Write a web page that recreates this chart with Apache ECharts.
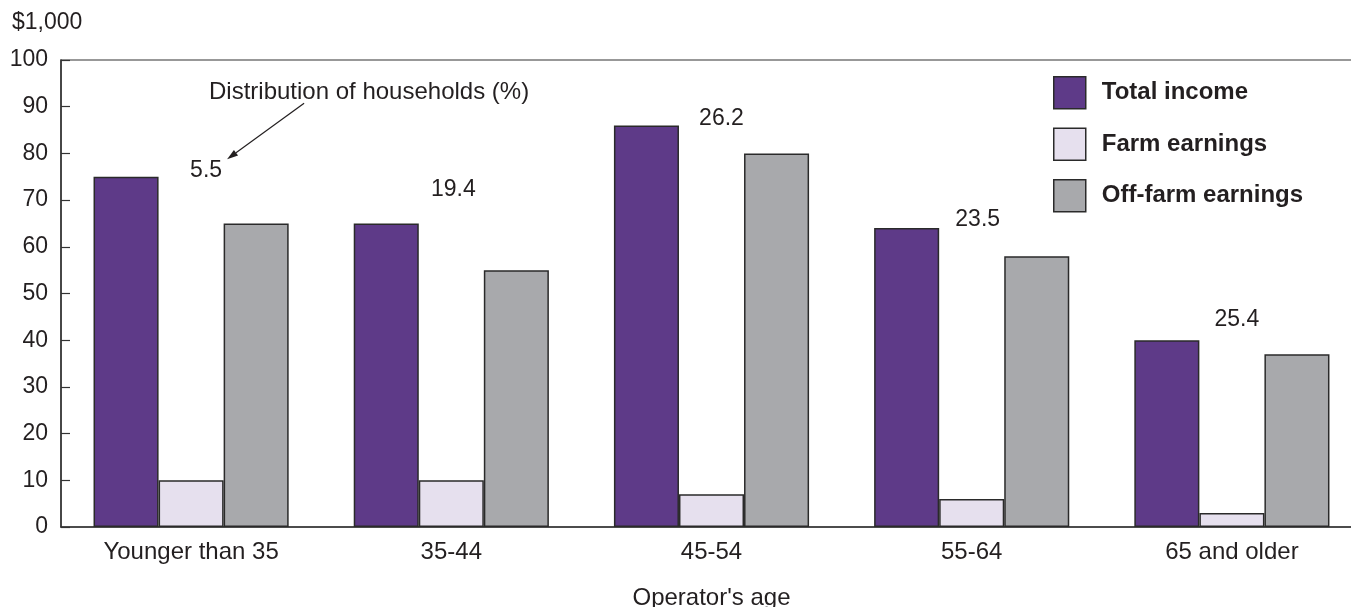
<!DOCTYPE html>
<html>
<head>
<meta charset="utf-8">
<script src="https://cdn.jsdelivr.net/npm/echarts@6/dist/echarts.min.js"></script>
<style>
html,body{margin:0;padding:0;background:#fff;}
#main{width:1351px;height:607px;}
</style>
</head>
<body>
<div id="main"></div>
<script>
// ---- data ----
const categories = ['Younger than 35', '35-44', '45-54', '55-64', '65 and older'];
const totalIncome = [75, 65, 86, 64, 40];
const farmEarnings = [10, 10, 7, 6, 3];
const offFarmEarnings = [65, 55, 80, 58, 37];
const householdShare = [5.5, 19.4, 26.2, 23.5, 25.4];
const yTicks = [0, 10, 20, 30, 40, 50, 60, 70, 80, 90, 100];

// ---- layout (label placement only) ----
const shareLabelY = [76.4, 72.3, 87.4, 65.8, 44.4];
const shareLabelDx = [15, 2, 10, 6, 5];

const FONT = 'Liberation Sans, Arial, Helvetica, sans-serif';
const TXT = '#231f20';

const chart = echarts.init(document.getElementById('main'), null, {renderer: 'canvas'});

const barBorder = {borderColor: '#2a2a2a', borderWidth: 1.5};

const option = {
  animation: false,
  backgroundColor: '#fff',
  grid: {left: 61, top: 60, width: 1301, bottom: 80, outerBoundsMode: 'none', containLabel: false,
    show: true, borderColor: '#333', borderWidth: 1.2, backgroundColor: 'transparent'},
  legend: {
    left: 1048, top: 71, orient: 'vertical', icon: 'rect',
    itemWidth: 32, itemHeight: 32, itemGap: 18,
    itemStyle: {borderColor: '#2a2a2a', borderWidth: 1.5},
    textStyle: {fontFamily: FONT, fontSize: 24, fontWeight: 'bold', color: TXT, padding: [0, 0, 0, 11]},
    data: ['Total income', 'Farm earnings', 'Off-farm earnings']
  },
  xAxis: {
    type: 'category', data: categories,
    name: "Operator's age", nameLocation: 'middle', nameGap: 59,
    nameTextStyle: {fontFamily: FONT, fontSize: 24, color: TXT},
    axisLine: {lineStyle: {color: '#333', width: 1.5}},
    axisTick: {inside: true, length: 9, alignWithLabel: true, lineStyle: {color: '#333', width: 1.2}},
    axisLabel: {fontFamily: FONT, fontSize: 24, color: TXT, margin: 13}
  },
  yAxis: {
    type: 'value', min: 0, max: 100, interval: 10,
    name: '$1,000', nameLocation: 'end', nameGap: 26,
    nameTextStyle: {fontFamily: FONT, fontSize: 23, color: TXT, align: 'left', padding: [0, 0, 0, -49]},
    axisLine: {show: true, lineStyle: {color: '#333', width: 1.5}},
    axisTick: {show: true, inside: true, length: 9, lineStyle: {color: '#333', width: 1.2}},
    axisLabel: {fontFamily: FONT, fontSize: 23, color: TXT, margin: 13,
      formatter: v => yTicks.includes(v) ? String(v) : ''},
    splitLine: {show: false}
  },
  series: [
    {name: 'Total income', type: 'bar', data: totalIncome, barGap: '0%', barCategoryGap: '25%',
      itemStyle: Object.assign({color: '#5e3a88'}, barBorder)},
    {name: 'Farm earnings', type: 'bar', data: farmEarnings,
      itemStyle: Object.assign({color: '#e6e0ee'}, barBorder)},
    {name: 'Off-farm earnings', type: 'bar', data: offFarmEarnings,
      itemStyle: Object.assign({color: '#a8a9ac'}, barBorder)}
  ]
};
chart.setOption(option);

// share labels + annotation, placed through the axes' scales
const graphics = [];
householdShare.forEach((v, i) => {
  const p = chart.convertToPixel({xAxisIndex: 0, yAxisIndex: 0}, [i, shareLabelY[i]]);
  graphics.push({type: 'text', x: p[0] + shareLabelDx[i], y: p[1], z: 10,
    style: {text: String(v), fontFamily: FONT, fontSize: 23, fill: TXT, textAlign: 'center', textVerticalAlign: 'middle'}});
});
const p0 = chart.convertToPixel({xAxisIndex: 0, yAxisIndex: 0}, [0, shareLabelY[0]]);
const l0 = [p0[0] + shareLabelDx[0], p0[1]];
const tip = [l0[0] + 21, l0[1] - 11];
const tail = [tip[0] + 77, tip[1] - 56];
const ang = Math.atan2(tip[1] - tail[1], tip[0] - tail[0]);
const L = 11, W = 3.5;
const bx = tip[0] - L * Math.cos(ang), by = tip[1] - L * Math.sin(ang);
const nx = -Math.sin(ang) * W, ny = Math.cos(ang) * W;
graphics.push(
  {type: 'text', x: tail[0] + 65, y: tail[1] - 11, z: 10,
    style: {text: 'Distribution of households (%)', fontFamily: FONT, fontSize: 24, fill: TXT,
      textAlign: 'center', textVerticalAlign: 'middle'}},
  {type: 'line', z: 10, shape: {x1: tail[0], y1: tail[1], x2: bx, y2: by},
    style: {stroke: '#231f20', lineWidth: 1.2}},
  {type: 'polygon', z: 10, shape: {points: [[tip[0], tip[1]], [bx + nx, by + ny], [bx - nx, by - ny]]},
    style: {fill: '#231f20'}}
);
chart.setOption({graphic: graphics});
</script>
</body>
</html>
